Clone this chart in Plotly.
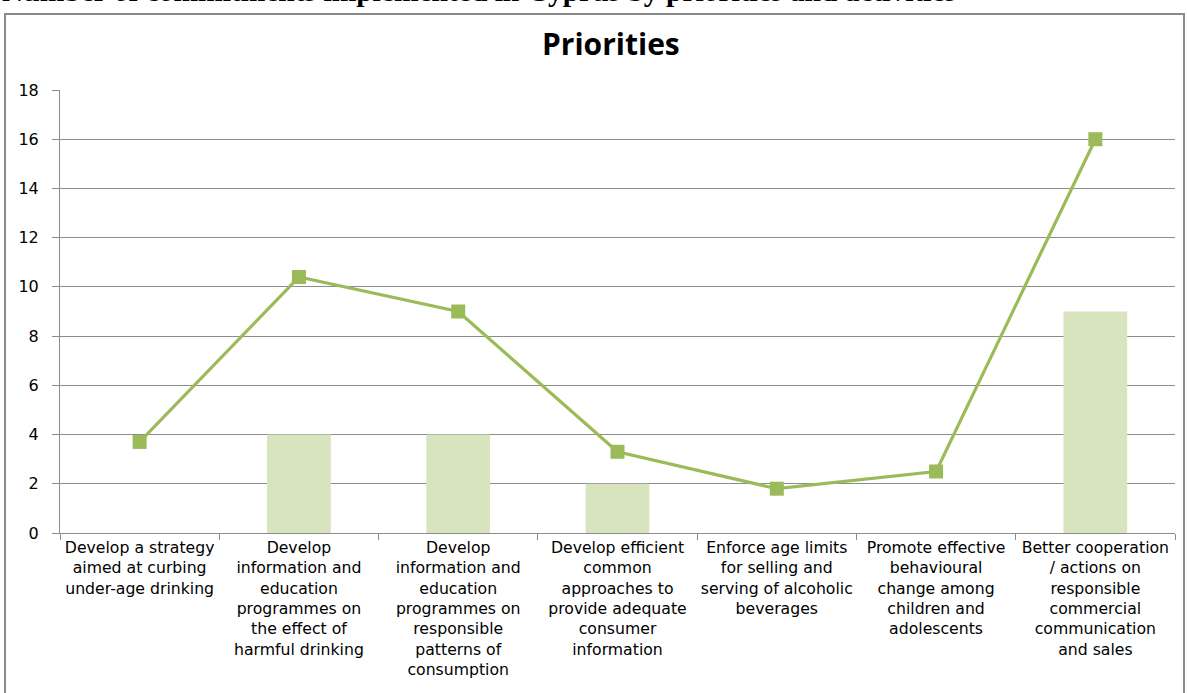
import plotly.graph_objects as go

# Priority categories (x axis)
categories = [
    "Develop a strategy<br>aimed at curbing<br>under-age drinking",
    "Develop<br>information and<br>education<br>programmes on<br>the effect of<br>harmful drinking",
    "Develop<br>information and<br>education<br>programmes on<br>responsible<br>patterns of<br>consumption",
    "Develop efficient<br>common<br>approaches to<br>provide adequate<br>consumer<br>information",
    "Enforce age limits<br>for selling and<br>serving of alcoholic<br>beverages",
    "Promote effective<br>behavioural<br>change among<br>children and<br>adolescents",
    "Better cooperation<br>/ actions on<br>responsible<br>commercial<br>communication<br>and sales",
]

# Commitments implemented in Cyprus (bars)
cyprus_values = [0, 4, 4, 2, 0, 0, 9]
# Comparison series (line)
line_values = [3.7, 10.4, 9.0, 3.3, 1.8, 2.5, 16.0]

y_ticks = [0, 2, 4, 6, 8, 10, 12, 14, 16, 18]

BAR_COLOR = "#d7e4bd"
LINE_COLOR = "#9bbb59"
GRID_COLOR = "#8c8c8c"

fig = go.Figure()
fig.add_trace(go.Bar(
    x=categories, y=cyprus_values,
    marker=dict(color=BAR_COLOR, line=dict(width=0)),
    width=0.4, showlegend=False, hoverinfo="y",
))
fig.add_trace(go.Scatter(
    x=categories, y=line_values, mode="lines+markers",
    line=dict(color=LINE_COLOR, width=3.2),
    marker=dict(symbol="square", size=14, color=LINE_COLOR),
    showlegend=False,
))

W, H = 1187, 693
L, R, T, B = 60, 12, 90, 160
pw, ph = W - L - R, H - T - B


def px_to_paper_x(px):
    return (px - L) / pw


def px_to_paper_y(py):
    return 1 - (py - T) / ph


fig.update_layout(
    width=W, height=H,
    margin=dict(l=L, r=R, t=T, b=B),
    paper_bgcolor="white", plot_bgcolor="white",
    font=dict(family="DejaVu Sans", color="#000000"),
    bargap=0.6,
    xaxis=dict(
        type="category", range=[-0.5, 6.5],
        showline=True, linecolor=GRID_COLOR, linewidth=1,
        ticks="outside", tickson="boundaries", ticklen=6, tickcolor=GRID_COLOR,
        tickfont=dict(family="DejaVu Sans", size=15.7, color="#000000"),
        tickangle=0, showgrid=False, fixedrange=True,
    ),
    yaxis=dict(
        range=[0, 18], tickvals=y_ticks,
        showline=True, linecolor=GRID_COLOR, linewidth=1,
        ticks="outside", ticklen=7, tickcolor=GRID_COLOR,
        showgrid=True, gridcolor=GRID_COLOR, gridwidth=1,
        zeroline=False,
        tickfont=dict(family="DejaVu Sans", size=16, color="#000000"),
        ticklabelstandoff=10, fixedrange=True,
    ),
    shapes=[
        dict(type="rect", xref="paper", yref="paper",
             x0=px_to_paper_x(5), x1=px_to_paper_x(1184),
             y0=px_to_paper_y(720), y1=px_to_paper_y(14),
             line=dict(color="#8a8a8a", width=2), fillcolor="rgba(0,0,0,0)",
             layer="below"),
    ],
    annotations=[
        dict(text="<b>Priorities</b>", xref="paper", yref="paper",
             x=px_to_paper_x(611), y=px_to_paper_y(44),
             xanchor="center", yanchor="middle", showarrow=False,
             font=dict(family="Open Sans", size=30, color="#000000")),
        dict(text="<b>Number of commitments implemented in Cyprus by priorities and activities</b>",
             xref="paper", yref="paper",
             x=px_to_paper_x(0), y=px_to_paper_y(9),
             xanchor="left", yanchor="bottom", showarrow=False,
             font=dict(family="Liberation Serif, Times New Roman", size=29.5, color="#000000")),
    ],
)

fig.write_html("out.html")
